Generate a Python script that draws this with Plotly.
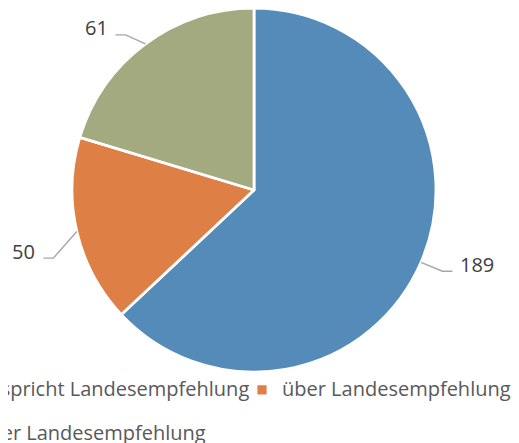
import math
import plotly.graph_objects as go

categories = ["entspricht Landesempfehlung", "über Landesempfehlung", "unter Landesempfehlung"]
values = [189, 50, 61]
colors = ["#558bb9", "#de8046", "#a4aa80"]

# style / layout constants (pixels inside the figure)
W, H = 750, 443          # figure is wider than the window: right part is cropped like the reference
MB = 79                  # bottom margin reserved for the legend
GW, GH = W, H - MB       # plot area size
cx, cy, R = 246, 182, 182
label_nudge = [(3, 1), (-4, 22), (-8, 7)]   # leader elbow adjustments (px)

def px(x):
    return x / GW

def py(y):
    return 1 - y / GH

# legend entries: larger glyphs, extra blank line on first entry to space the rows
legend_labels = [f'<span style="font-size:20px">{c}</span>' + ("<br> " if i == 0 else "")
                 for i, c in enumerate(categories)]

fig = go.Figure(go.Pie(
    labels=legend_labels, values=values, customdata=categories,
    sort=False, direction="clockwise", rotation=0,
    marker=dict(colors=colors, line=dict(color="white", width=2.8)),
    textinfo="none", hovertemplate="%{customdata}: %{value}<extra></extra>",
    domain=dict(x=[px(cx - R), px(cx + R)], y=[0, 1]),
))

# data labels with leader lines, computed from slice mid-angles
total = sum(values)
cum = 0
shapes, annos = [], []
for i, v in enumerate(values):
    mid = (cum + v / 2) / total * 2 * math.pi
    cum += v
    dx, dy = math.sin(mid), -math.cos(mid)
    ex, ey = cx + R * dx, cy + R * dy
    bx = cx + (R + 20) * dx + label_nudge[i][0]
    by = cy + (R + 20) * dy + label_nudge[i][1]
    side = 1 if dx > 0 else -1
    hx = bx + side * 10
    shapes.append(dict(type="path", xref="paper", yref="paper",
                       path=f"M {px(ex)},{py(ey)} L {px(bx)},{py(by)} L {px(hx)},{py(by)}",
                       line=dict(color="#a6a6a6", width=1.4)))
    annos.append(dict(x=px(hx + side * 6), y=py(by - 7), xref="paper", yref="paper",
                      text=str(v), showarrow=False,
                      xanchor="left" if side > 0 else "right", yanchor="middle",
                      font=dict(size=20, color="#404040", family="Open Sans")))

fig.update_layout(
    width=W, height=H, margin=dict(l=0, r=0, t=0, b=MB, pad=0, autoexpand=False),
    paper_bgcolor="white", plot_bgcolor="white",
    shapes=shapes, annotations=annos,
    showlegend=True,
    legend=dict(orientation="h", x=px(-78), xanchor="left", y=py(365.3), yanchor="top",
                entrywidth=267, entrywidthmode="pixels",
                font=dict(size=15.6, color="#595959", family="Open Sans"),
                traceorder="normal", bgcolor="rgba(0,0,0,0)"),
)
fig.write_html("out.html")
